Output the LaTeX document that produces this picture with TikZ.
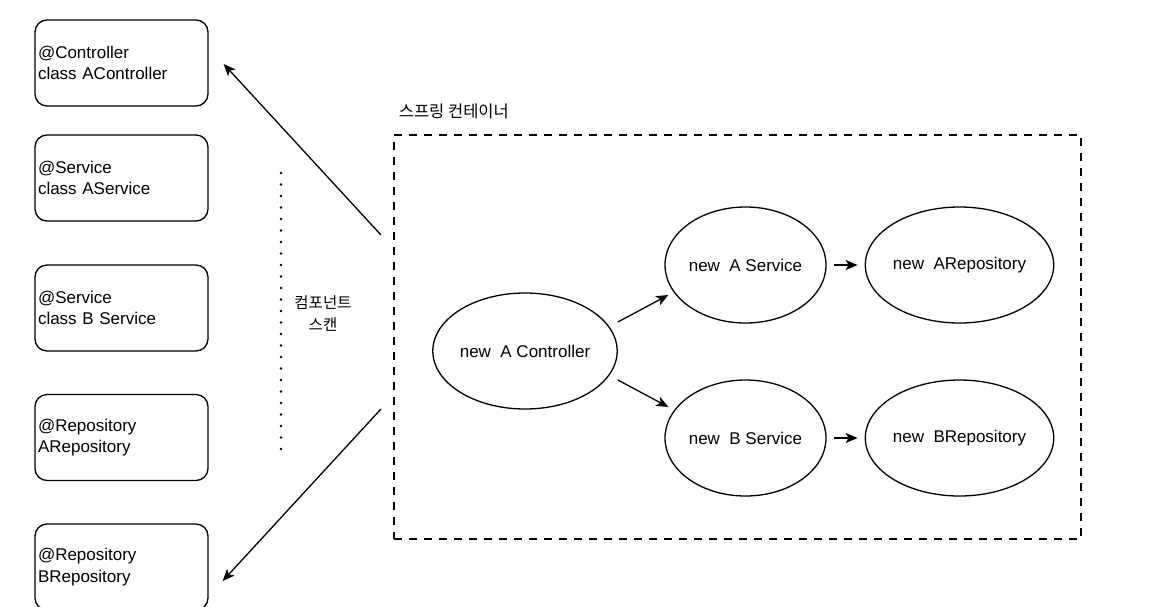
\documentclass[tikz,border=0pt]{standalone}
\usepackage{fontspec}
\setmainfont{Liberation Sans}
\newfontfamily\kr{Noto Sans CJK KR}
\usetikzlibrary{shapes.geometric,arrows.meta}
\begin{document}
\begin{tikzpicture}[x=1pt,y=-1pt,
  every node/.style={font=\fontsize{17}{21.5}\selectfont},
  annbox/.style={draw,line width=1.3pt,rounded corners=12pt,text width=167pt,inner sep=3pt,
    minimum height=86pt,align=left},
  bean/.style={draw,line width=1.3pt,ellipse,inner sep=0pt,minimum width=161pt,minimum height=116pt},
  arr/.style={line width=1.3pt,-{Stealth[length=12pt,width=10pt,inset=3pt]}},
  krtext/.style={font=\kr\fontsize{15.5}{22}\selectfont}]
\useasboundingbox (0,0) rectangle (1162,606);
% left annotation boxes
\node[annbox] (b1) at (121.5,63) {@Controller\\class AController};
\node[annbox] (b2) at (121.5,178) {@Service\\class AService};
\node[annbox] (b3) at (121.5,308) {@Service\\class B Service};
\node[annbox] (b4) at (121.5,437.5) {@Repository\\ARepository};
\node[annbox] (b5) at (121.5,567) {@Repository\\BRepository};
% component scan
\coordinate (dtop) at (281,173);
\coordinate (dbot) at (281,450);
\draw[line width=2.8pt,line cap=round,dash pattern=on 0pt off 11.5pt] (dtop) -- (dbot);
\node[krtext,align=center] (scan) at (323,314) {컴포넌트\\스캔};
% container
\node[draw,line width=1.3pt,dash pattern=on 8pt off 7pt,minimum width=687pt,minimum height=404pt,inner sep=0pt] (cont) at (737.5,337) {};
\node[krtext,font=\kr\fontsize{16.5}{22}\selectfont,anchor=west] (contlbl) at ([shift={(2,-23)}]cont.north west) {스프링 컨테이너};
% beans
\node[bean,minimum width=174pt] (ctrl) at (525,351) {new\ \ A Controller};
\node[bean] (asvc) at (745.5,265) {new\ \ A Service};
\node[bean] (arepo) at (959.5,265) {new\ \ ARepository\vphantom{A}};
\node[bean] (bsvc) at (745.5,438) {new\ \ B Service};
\node[bean] (brepo) at (959.5,438) {new\ \ BRepository};
% arrows inside container
\draw[arr] ([shift={(0,-29)}]ctrl.east) -- ([shift={(4,30)}]asvc.west);
\draw[arr] ([shift={(0,29)}]ctrl.east) -- ([shift={(4,-31)}]bsvc.west);
\draw[arr,shorten <=7pt,shorten >=7pt] (asvc) -- (arepo);
\draw[arr,shorten <=7pt,shorten >=7pt] (bsvc) -- (brepo);
% scan arrows
\coordinate (s1) at (381,235);
\coordinate (s2) at (381,409);
\draw[arr] (s1) -- ([shift={(15,1)}]b1.east);
\draw[arr] (s2) -- ([shift={(14,14)}]b5.east);
\end{tikzpicture}
\end{document}
